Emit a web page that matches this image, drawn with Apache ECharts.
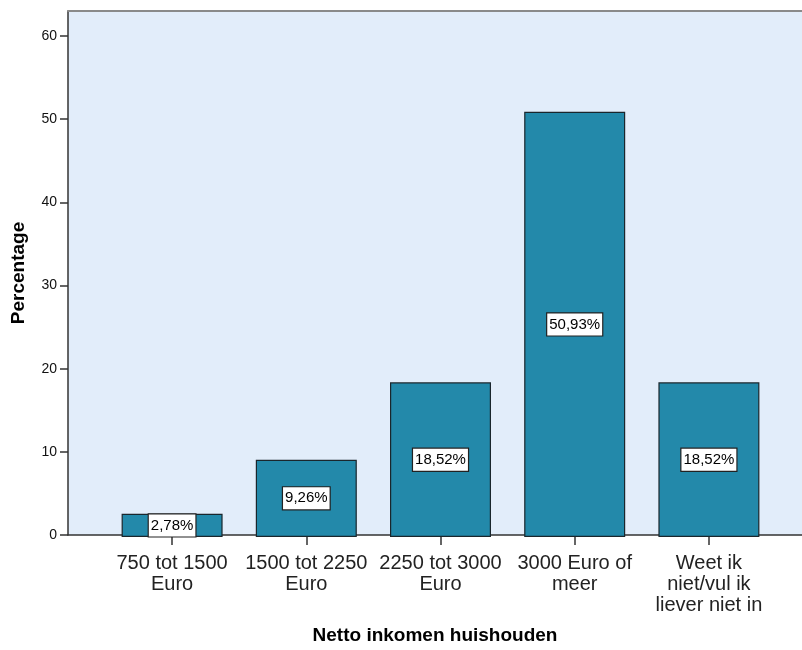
<!DOCTYPE html>
<html>
<head>
<meta charset="utf-8">
<script src="https://cdn.jsdelivr.net/npm/echarts@6/dist/echarts.min.js"></script>
<style>html,body{margin:0;padding:0;background:#fff}#c{width:802px;height:650px}</style>
</head>
<body>
<div id="c"></div>
<script>
const categories = ["750 tot 1500\nEuro", "1500 tot 2250\nEuro", "2250 tot 3000\nEuro", "3000 Euro of\nmeer", "Weet ik\nniet/vul ik\nliever niet in"];
const percentages = [2.78, 9.26, 18.52, 50.93, 18.52];
const yTicks = [0, 10, 20, 30, 40, 50, 60];
const xTitle = "Netto inkomen huishouden";
const yTitle = "Percentage";

const FONT = "'Liberation Sans', Arial, sans-serif";
const chart = echarts.init(document.getElementById('c'), null, {renderer: 'canvas'});
const yMax = 63;
chart.setOption({
  animation: false,
  grid: [
    {left: 68, right: 0, top: 11, bottom: 113, show: true, backgroundColor: '#E2EDFA', borderWidth: 0},
    {left: 105, right: 26, top: 11, bottom: 113}
  ],
  xAxis: [
    {gridIndex: 0, type: 'value', min: 0, max: 1, position: 'bottom',
     axisLine: {show: true, lineStyle: {color: '#333', width: 1.5}},
     axisTick: {show: false}, axisLabel: {show: false}, splitLine: {show: false},
     name: xTitle, nameLocation: 'middle', nameGap: 91,
     nameTextStyle: {fontFamily: FONT, fontWeight: 'bold', fontSize: 19, color: '#000'}},
    {gridIndex: 0, type: 'value', min: 0, max: 1, position: 'top',
     axisLine: {show: true, lineStyle: {color: '#8a8a8a', width: 2}},
     axisTick: {show: false}, axisLabel: {show: false}, splitLine: {show: false}},
    {gridIndex: 1, type: 'category', data: categories, position: 'bottom',
     axisLine: {show: false},
     axisTick: {show: true, alignWithLabel: true, length: 8, lineStyle: {color: '#333', width: 1.5}},
     axisLabel: {interval: 0, margin: 16, fontFamily: FONT, fontSize: 20, lineHeight: 21, color: '#222'}}
  ],
  yAxis: [
    {gridIndex: 0, type: 'value', min: 0, max: yMax, interval: 10,
     axisLine: {show: true, lineStyle: {color: '#333', width: 1.5}},
     axisTick: {show: true, length: 8, lineStyle: {color: '#333', width: 1.5},
       customValues: yTicks},
     axisLabel: {margin: 11, fontFamily: FONT, fontSize: 14, color: '#111', customValues: yTicks},
     splitLine: {show: false},
     name: yTitle, nameLocation: 'middle', nameGap: 40, nameRotate: 90,
     nameTextStyle: {fontFamily: FONT, fontWeight: 'bold', fontSize: 19, color: '#000'}},
    {gridIndex: 1, type: 'value', min: 0, max: yMax, show: false}
  ],
  series: [{
    type: 'bar', xAxisIndex: 2, yAxisIndex: 1,
    data: percentages, barWidth: 101,
    itemStyle: {color: '#2389AA', borderColor: '#1a262c', borderWidth: 1.2},
    label: {show: true, position: 'inside',
      formatter: p => p.value.toFixed(2).replace('.', ',') + '%',
      fontFamily: FONT, fontSize: 15, color: '#000', backgroundColor: '#fff',
      borderColor: '#222', borderWidth: 1.2, padding: [4, 2, 3, 2]}
  }]
});
</script>
</body>
</html>
